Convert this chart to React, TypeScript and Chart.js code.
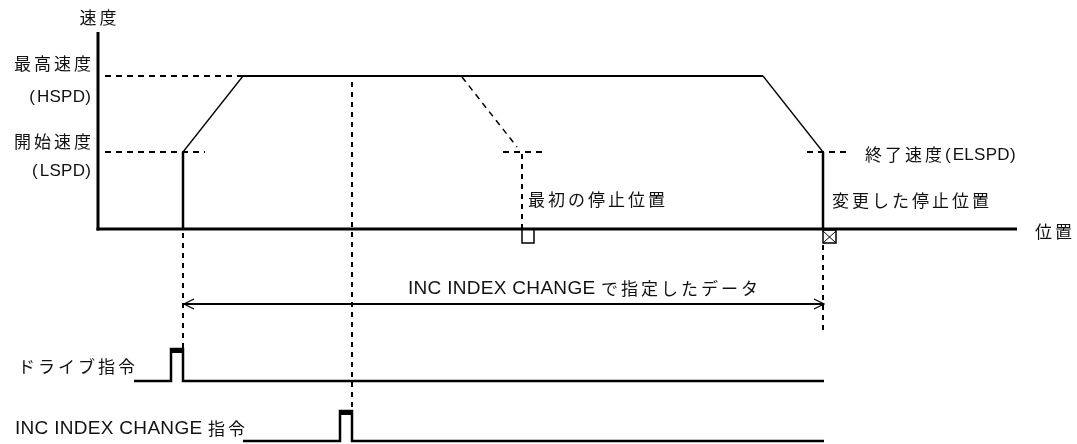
import { useEffect, useRef } from "react";
import { Chart, registerables } from "chart.js";

Chart.register(...registerables);

const W = 1077;
const H = 444;

// ---- speed levels (vertical diagram units, larger = lower on page) ----
const SPEED_ZERO = 229;
const SPEED_LSPD = 152;
const SPEED_HSPD = 76;
const AXIS_TOP = 32;

// ---- positions along the travel axis ----
const POS_AXIS = 98;
const POS_START = 183;
const POS_ACCEL_END = 243;
const POS_CHANGE = 352;
const POS_FIRST_DECEL = 462;
const POS_FIRST_STOP = 522;
const POS_DECEL_START = 763;
const POS_STOP = 823;
const POS_AXIS_END = 1017;

// ---- signal lanes ----
const ARROW_LEVEL = 304;
const DRIVE_LOW = 381;
const DRIVE_HIGH = 349;
const DRIVE_BEGIN = 134;
const DRIVE_RISE = 171;
const INC_LOW = 441;
const INC_HIGH = 411;
const INC_BEGIN = 243;
const INC_RISE = 340;
const SIGNAL_END = 824;

// ---- polylines (x list, y list) ----
const profileX = [POS_START, POS_START, POS_ACCEL_END, POS_DECEL_START, POS_STOP, POS_STOP];
const profileY = [SPEED_ZERO, SPEED_LSPD, SPEED_HSPD, SPEED_HSPD, SPEED_LSPD, SPEED_ZERO];
const firstDecelX = [POS_FIRST_DECEL, 517];
const firstDecelY = [77, 147];
const drivePulseX = [DRIVE_BEGIN, DRIVE_RISE, DRIVE_RISE, POS_START, POS_START, SIGNAL_END];
const drivePulseY = [DRIVE_LOW, DRIVE_LOW, DRIVE_HIGH, DRIVE_HIGH, DRIVE_LOW, DRIVE_LOW];
const incPulseX = [INC_BEGIN, INC_RISE, INC_RISE, POS_CHANGE, POS_CHANGE, SIGNAL_END];
const incPulseY = [INC_LOW, INC_LOW, INC_HIGH, INC_HIGH, INC_LOW, INC_LOW];

// ---- labels ----
const labelTexts = [
  "速度",
  "最高速度",
  "(HSPD)",
  "開始速度",
  "(LSPD)",
  "最初の停止位置",
  "変更した停止位置",
  "終了速度(ELSPD)",
  "位置",
  "INC INDEX CHANGE で指定したデータ",
  "ドライブ指令",
  "INC INDEX CHANGE 指令",
];
const labelX = [98, 91, 91, 91, 91, 528, 832, 865, 1035, 408, 18, 15];
const labelY = [18, 64, 97, 142, 171, 200, 201, 155, 232, 289, 367, 429];
const labelAlign = ["center", "right", "right", "right", "right", "left", "left", "left", "left", "left", "left", "left"];
const labelLatinSize = [17, 17, 17, 17, 17, 17, 17, 17, 17, 19, 17, 19];

const LATIN_FAMILY = '"Liberation Sans", Arial, sans-serif';
const CJK_FONT = '17px "Noto Sans CJK JP", sans-serif';
const CJK_SPACING = 3;

type P = { x: number; y: number };
const pts = (xs: number[], ys: number[]): P[] => xs.map((x, i) => ({ x, y: ys[i] }));
const seg = (x1: number, y1: number, x2: number, y2: number): P[] => [
  { x: x1, y: y1 },
  { x: x2, y: y2 },
];

function line(data: P[], width: number, dash: number[] = []) {
  return {
    data,
    showLine: true,
    borderColor: "#000",
    borderWidth: width,
    borderDash: dash,
    borderCapStyle: "butt" as const,
    borderJoinStyle: "miter" as const,
    pointRadius: 0,
    pointHoverRadius: 0,
    fill: false,
    tension: 0,
    clip: false as const,
  };
}

const isCJK = (ch: string) => /[\u3000-\u30ff\u3400-\u9fff\uff00-\uffef]/.test(ch);

function splitRuns(text: string) {
  const runs: { cjk: boolean; s: string }[] = [];
  for (const ch of text) {
    const c = isCJK(ch);
    const last = runs[runs.length - 1];
    if (last && last.cjk === c) last.s += ch;
    else runs.push({ cjk: c, s: ch });
  }
  return runs;
}

function drawRich(ctx: CanvasRenderingContext2D, text: string, x: number, y: number, align: string, latinSize: number) {
  const latinFont = `${latinSize}px ${LATIN_FAMILY}`;
  const runs = splitRuns(text);
  const pieces: { ch: string; font: string; w: number; adv: number }[] = [];
  for (const r of runs) {
    if (r.cjk) {
      ctx.font = CJK_FONT;
      for (const ch of r.s) {
        const w = ctx.measureText(ch).width;
        pieces.push({ ch, font: CJK_FONT, w, adv: w + CJK_SPACING });
      }
    } else {
      ctx.font = latinFont;
      for (const ch of r.s) {
        const w = ctx.measureText(ch).width;
        const extra = ch === "(" || ch === ")" ? 2 : 0.3;
        pieces.push({ ch, font: latinFont, w, adv: w + extra });
      }
    }
  }
  let total = 0;
  pieces.forEach((p, i) => (total += i === pieces.length - 1 ? p.w : p.adv));
  let cx = x;
  if (align === "right") cx = x - total;
  else if (align === "center") cx = x - total / 2;
  ctx.textBaseline = "middle";
  ctx.textAlign = "left";
  ctx.fillStyle = "#111";
  for (const p of pieces) {
    ctx.font = p.font;
    ctx.fillText(p.ch, cx, y);
    cx += p.adv;
  }
}

const labelPlugin = {
  id: "diagramLabels",
  afterDatasetsDraw(chart: Chart) {
    const ctx = chart.ctx;
    const xs = chart.scales.x;
    const ys = chart.scales.y;
    ctx.save();
    labelTexts.forEach((t, i) => {
      drawRich(ctx, t, xs.getPixelForValue(labelX[i]), ys.getPixelForValue(labelY[i]), labelAlign[i], labelLatinSize[i]);
    });
    ctx.restore();
  },
};

export default function App() {
  const ref = useRef<HTMLCanvasElement | null>(null);

  useEffect(() => {
    document.body.style.margin = "0";
    if (!ref.current) return;
    const profile = pts(profileX, profileY);
    const datasets = [
      // axes
      line(seg(POS_AXIS, AXIS_TOP, POS_AXIS, SPEED_ZERO + 1.5), 3),
      line(seg(POS_AXIS - 1.5, SPEED_ZERO, POS_AXIS_END, SPEED_ZERO), 3),
      // reference dashed levels
      line(seg(105, SPEED_HSPD, POS_ACCEL_END, SPEED_HSPD), 2, [6, 5]),
      line(seg(105, SPEED_LSPD, 205, SPEED_LSPD), 2, [6, 5]),
      line(seg(807, SPEED_LSPD, 847, SPEED_LSPD), 2, [6, 5]),
      line(seg(503, SPEED_LSPD, 543, SPEED_LSPD), 2, [6, 5]),
      line(seg(POS_FIRST_STOP, SPEED_LSPD + 2, POS_FIRST_STOP, SPEED_ZERO), 2, [5, 5]),
      line(pts(firstDecelX, firstDecelY), 1.5, [6, 5]),
      // speed profile
      line(profile.slice(0, 2), 2.5),
      line(profile.slice(1, 3), 1.3),
      line(profile.slice(2, 4), 2.2),
      line(profile.slice(3, 5), 1.3),
      line(profile.slice(4, 6), 2.5),
      // stop markers
      line(pts([POS_FIRST_STOP, POS_FIRST_STOP, 534, 534], [230, 243, 243, 230]), 1.5),
      line(pts([POS_STOP, POS_STOP, 836, 836, POS_STOP], [230, 243, 243, 230, 230]), 1.5),
      line(seg(POS_STOP, 231, 836, 243), 1),
      line(seg(POS_STOP, 243, 836, 231), 1),
      // vertical dashed guides
      line(seg(POS_START, 233, POS_START, DRIVE_HIGH), 2, [5, 5]),
      line(seg(POS_CHANGE, 82, POS_CHANGE, INC_HIGH), 2, [5, 5]),
      line(seg(POS_STOP, 245, POS_STOP, 333), 2, [5, 5]),
      // dimension arrow
      line(seg(POS_START + 1, ARROW_LEVEL, POS_STOP + 1, ARROW_LEVEL), 2),
      line(pts([POS_START + 11, POS_START + 1, POS_START + 11], [ARROW_LEVEL - 5, ARROW_LEVEL, ARROW_LEVEL + 5]), 1.3),
      line(pts([POS_STOP - 9, POS_STOP + 1, POS_STOP - 9], [ARROW_LEVEL - 5, ARROW_LEVEL, ARROW_LEVEL + 5]), 1.3),
      // drive command pulse
      line(pts(drivePulseX, drivePulseY), 2.5),
      line(seg(DRIVE_RISE, DRIVE_HIGH + 2, POS_START, DRIVE_HIGH + 2), 4),
      // INC INDEX CHANGE command pulse
      line(pts(incPulseX, incPulseY), 2.5),
      line(seg(INC_RISE, INC_HIGH + 2, POS_CHANGE, INC_HIGH + 2), 4),
    ];

    const chart = new Chart(ref.current, {
      type: "scatter",
      data: { datasets: datasets as any },
      options: {
        animation: false,
        responsive: false,
        maintainAspectRatio: false,
        events: [],
        layout: { padding: 0 },
        plugins: { legend: { display: false }, tooltip: { enabled: false } },
        scales: {
          x: { type: "linear", min: 0, max: W, display: false },
          y: { type: "linear", min: 0, max: H, reverse: true, display: false },
        },
      },
      plugins: [labelPlugin],
    });
    return () => chart.destroy();
  }, []);

  return (
    <div style={{ width: W, height: H, background: "#fff" }}>
      <canvas ref={ref} width={W} height={H} style={{ display: "block" }} />
    </div>
  );
}
